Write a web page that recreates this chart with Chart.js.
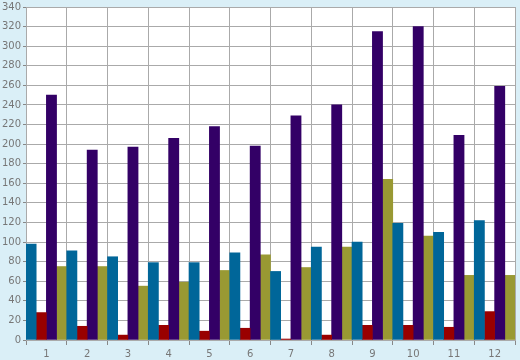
<!DOCTYPE html>
<html>
<head>
<meta charset="utf-8">
<script src="https://cdn.jsdelivr.net/npm/chart.js@4"></script>
<style>
html,body{margin:0;padding:0;background:#daeff7;}
#wrap{width:520px;height:360px;}
</style>
</head>
<body>
<div id="wrap"><canvas id="c" width="520" height="360"></canvas></div>
<script>
const categories = ['1','2','3','4','5','6','7','8','9','10','11','12'];
const blueValues   = [98, 91, 85, 79, 79, 89, 70, 95, 100, 119, 110, 122];
const redValues    = [28, 14, 5, 15, 9, 12, 1, 5, 15, 15, 13, 29];
const purpleValues = [250, 194, 197, 206, 218, 198, 229, 240, 315, 320, 209, 259];
const oliveValues  = [75, 75, 55, 59, 71, 87, 74, 95, 164, 106, 66, 66];

const plotBg = {
  id: 'plotBg',
  beforeDraw(chart) {
    const {ctx, chartArea: a} = chart;
    ctx.save();
    ctx.fillStyle = '#ffffff';
    ctx.fillRect(a.left, a.top, a.right - a.left, a.bottom - a.top);
    ctx.restore();
  },
  afterDatasetsDraw(chart) {
    const {ctx, chartArea: a} = chart;
    ctx.save();
    ctx.strokeStyle = '#aaaaaa';
    ctx.lineWidth = 1;
    ctx.beginPath();
    ctx.moveTo(a.left, a.top + 0.5);
    ctx.lineTo(a.right + 0.5, a.top + 0.5);
    ctx.lineTo(a.right + 0.5, a.bottom);
    ctx.stroke();
    ctx.restore();
  }
};

new Chart(document.getElementById('c'), {
  type: 'bar',
  data: {
    labels: categories,
    datasets: [
      {data: blueValues, backgroundColor: '#006699'},
      {data: redValues, backgroundColor: '#990000'},
      {data: purpleValues, backgroundColor: '#330066'},
      {data: oliveValues, backgroundColor: '#999933'}
    ]
  },
  options: {
    responsive: false,
    animation: false,
    devicePixelRatio: 1,
    layout: {padding: {top: 5, right: 5, left: 0, bottom: 0}},
    plugins: {legend: {display: false}, tooltip: {enabled: false}},
    datasets: {bar: {barPercentage: 1, categoryPercentage: 1, borderWidth: 0}},
    scales: {
      x: {
        offset: true,
        grid: {offset: true, color: '#aaaaaa', tickColor: '#888888', tickLength: 5, drawOnChartArea: true},
        border: {color: '#aaaaaa'},
        ticks: {color: '#777777', font: {family: 'DejaVu Sans', size: 10, lineHeight: 1}, padding: 4, maxRotation: 0},
        afterFit(s) { s.height = 20; }
      },
      y: {
        min: 0, max: 340,
        grid: {color: '#aaaaaa', tickColor: '#888888', tickLength: 3},
        border: {color: '#aaaaaa'},
        ticks: {stepSize: 20, color: '#777777', font: {family: 'DejaVu Sans', size: 10, lineHeight: 1}, padding: 2},
        afterFit(s) { s.width = 26; }
      }
    }
  },
  plugins: [plotBg]
});
</script>
</body>
</html>
